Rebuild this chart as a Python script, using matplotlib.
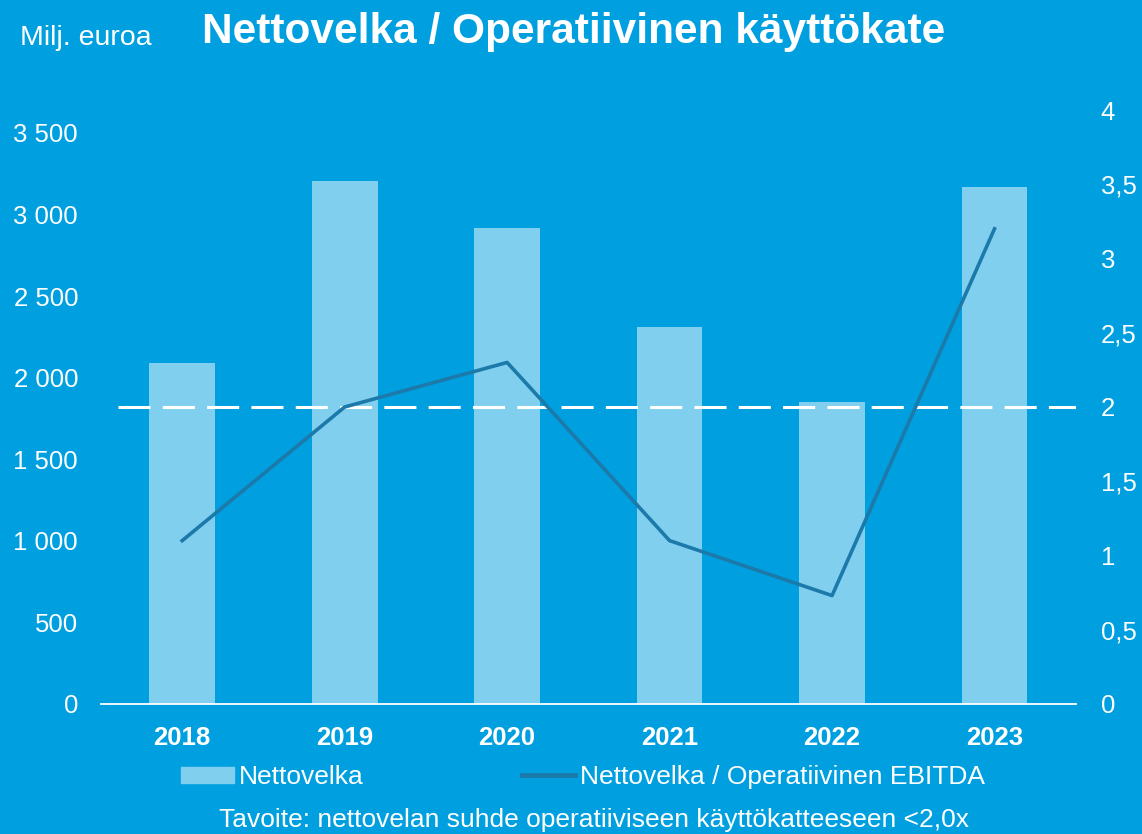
import matplotlib.pyplot as plt
from matplotlib.patches import Patch
from matplotlib.lines import Line2D

# ==============================================================
# Data
# ==============================================================
years = ["2018", "2019", "2020", "2021", "2022", "2023"]
nettovelka = [2090, 3205, 2917, 2310, 1850, 3168]          # Milj. euroa
suhde = [1.10, 2.00, 2.30, 1.10, 0.73, 3.20]               # Nettovelka / EBITDA
tavoite = 2.0
left_ticks = [0, 500, 1000, 1500, 2000, 2500, 3000, 3500]
left_labels = ["0", "500", "1 000", "1 500", "2 000", "2 500", "3 000", "3 500"]
right_ticks = [0, 0.5, 1, 1.5, 2, 2.5, 3, 3.5, 4]
right_labels = ["0", "0,5", "1", "1,5", "2", "2,5", "3", "3,5", "4"]

# ==============================================================
# Styles
# ==============================================================
bg = "#009FE0"
bar_col = "#80CFEF"
line_col = "#1C7AAA"
plt.rcParams['font.family'] = ['Liberation Sans', 'DejaVu Sans']

fig = plt.figure(figsize=(11.42, 8.34), dpi=100, facecolor=bg)
ax = fig.add_axes([0.0884, 0.1559, 0.8536, 0.7122])
ax.set_facecolor(bg)
ax2 = ax.twinx()

x = list(range(len(years)))
ax.bar(x, nettovelka, width=0.405, color=bar_col, zorder=2)
ax.set_xlim(-0.5, len(years) - 0.5)
ax.set_ylim(0, 3640)
ax.set_yticks(left_ticks)
ax.set_yticklabels(left_labels)
ax.set_xticks(x)
ax.set_xticklabels(years, fontweight='bold')

# tavoiteviiva ensin, jotta suhdeluku piirtyy sen päälle
ax2.axhline(tavoite, xmin=0.017, xmax=1.0, color='white', lw=2.2,
            dashes=(10.5, 4), zorder=2)
ax2.plot(x, suhde, color=line_col, lw=2.6, zorder=3)
ax2.set_ylim(0, 4)
ax2.set_yticks(right_ticks)
ax2.set_yticklabels(right_labels)

for a in (ax, ax2):
    for s in a.spines.values():
        s.set_visible(False)
    a.tick_params(length=0, colors='white', labelsize=18.5)
ax.spines['bottom'].set_visible(True)
ax.spines['bottom'].set_color('white')
ax.spines['bottom'].set_linewidth(1.3)
ax.tick_params(axis='y', pad=16.5)
ax.tick_params(axis='x', pad=16)
ax2.tick_params(axis='y', pad=18)

# ==============================================================
# Texts
# ==============================================================
fig.text(574 / 1142, 1 - 32 / 834, "Nettovelka / Operatiivinen käyttökate",
         ha='center', va='center', fontsize=30.5, fontweight='bold', color='white')
fig.text(20 / 1142, 1 - 38 / 834, "Milj. euroa", ha='left', va='center',
         fontsize=20.5, color='white')
fig.text(594 / 1142, 1 - 820 / 834,
         "Tavoite: nettovelan suhde operatiiviseen käyttökatteeseen <2,0x",
         ha='center', va='center', fontsize=19, color='white')

handles = [Patch(color=bar_col), Line2D([], [], color=line_col, lw=3.5)]
leg = fig.legend(handles, ["Nettovelka", "Nettovelka / Operatiivinen EBITDA"],
                 loc='center', bbox_to_anchor=(583 / 1142, 1 - 777 / 834), ncol=2,
                 frameon=False, fontsize=19, handlelength=2.0, handleheight=0.55,
                 handletextpad=0.2, columnspacing=6.0, labelcolor='white')

fig.savefig("out.png", dpi=100, facecolor=bg)
